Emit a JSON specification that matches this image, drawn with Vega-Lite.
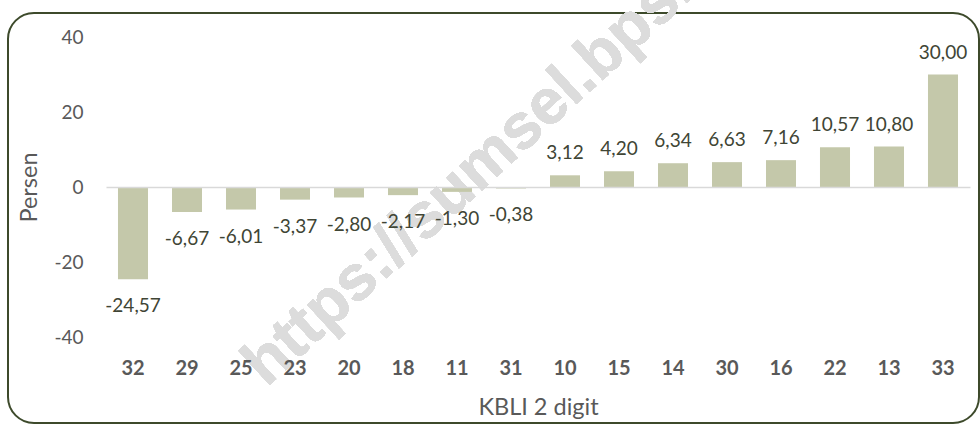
{
  "$schema": "https://vega.github.io/schema/vega-lite/v6.json",
  "width": 971,
  "height": 410,
  "autosize": {"type": "none"},
  "padding": {"left": 8, "top": 13, "right": 1, "bottom": 1},
  "background": "#ffffff",
  "config": {
    "view": {"stroke": "#3d4a2b", "strokeWidth": 2, "cornerRadius": 26},
    "font": "Lato",
    "locale": {
      "number": {"decimal": ",", "thousands": ".", "grouping": [3], "currency": ["", ""], "minus": "-"}
    }
  },
  "data": {
    "values": [
      {"kbli": "32", "persen": -24.57},
      {"kbli": "29", "persen": -6.67},
      {"kbli": "25", "persen": -6.01},
      {"kbli": "23", "persen": -3.37},
      {"kbli": "20", "persen": -2.80},
      {"kbli": "18", "persen": -2.17},
      {"kbli": "11", "persen": -1.30},
      {"kbli": "31", "persen": -0.38},
      {"kbli": "10", "persen": 3.12},
      {"kbli": "15", "persen": 4.20},
      {"kbli": "14", "persen": 6.34},
      {"kbli": "30", "persen": 6.63},
      {"kbli": "16", "persen": 7.16},
      {"kbli": "22", "persen": 10.57},
      {"kbli": "13", "persen": 10.80},
      {"kbli": "33", "persen": 30.00}
    ]
  },
  "encoding": {
    "x": {
      "field": "kbli",
      "type": "nominal",
      "sort": null,
      "scale": {
        "domain": ["32", "29", "25", "23", "20", "18", "11", "31", "10", "15", "14", "30", "16", "22", "13", "33"],
        "range": [98, 962],
        "paddingInner": 0.444,
        "paddingOuter": 0.222
      },
      "axis": {
        "title": "KBLI 2 digit",
        "titleFont": "Lato",
        "titleFontSize": 23.5,
        "titleFontWeight": "normal",
        "titleColor": "#595959",
        "titlePadding": 17,
        "labelAngle": 0,
        "labelFont": "Lato",
        "labelFontSize": 20,
        "labelFontWeight": "bold",
        "labelColor": "#595959",
        "labelPadding": 171,
        "offset": -236,
        "ticks": false,
        "tickSize": 0,
        "domain": true,
        "domainColor": "#d9d9d9",
        "domainWidth": 1.3,
        "grid": false,
        "zindex": 1
      }
    },
    "y": {
      "field": "persen",
      "type": "quantitative",
      "scale": {"domain": [-40, 40], "range": [324, 24], "nice": false, "zero": false},
      "axis": {
        "title": "Persen",
        "titleFont": "Lato",
        "titleFontSize": 23.5,
        "titleFontWeight": "normal",
        "titleColor": "#595959",
        "titlePadding": 12,
        "values": [-40, -20, 0, 20, 40],
        "format": "d",
        "labelFont": "Lato",
        "labelFontSize": 19,
        "labelColor": "#595959",
        "labelPadding": 23,
        "offset": -98,
        "ticks": false,
        "tickSize": 0,
        "domain": false,
        "grid": false,
        "zindex": 1
      }
    }
  },
  "layer": [
    {
      "mark": {
        "type": "text",
        "font": "Liberation Sans",
        "fontWeight": "bold",
        "fontSize": 64,
        "angle": 317.5,
        "align": "center",
        "baseline": "middle",
        "dx": 19,
        "color": "#dcdcdc"
      },
      "encoding": {
        "x": {"datum": "31"},
        "y": {"datum": 13},
        "text": {"value": "https://sumsel.bps.go.id"}
      }
    },
    {
      "mark": {"type": "bar", "color": "#c4c8aa"}
    },
    {
      "transform": [{"filter": "datum.persen >= 0"}],
      "mark": {"type": "text", "font": "Lato", "fontSize": 19, "color": "#404535", "baseline": "alphabetic", "dy": -16},
      "encoding": {"text": {"field": "persen", "type": "quantitative", "format": ".2f"}}
    },
    {
      "transform": [{"filter": "datum.persen < 0"}],
      "mark": {"type": "text", "font": "Lato", "fontSize": 19, "color": "#404535", "baseline": "alphabetic", "dy": 33},
      "encoding": {"text": {"field": "persen", "type": "quantitative", "format": ".2f"}}
    }
  ]
}
